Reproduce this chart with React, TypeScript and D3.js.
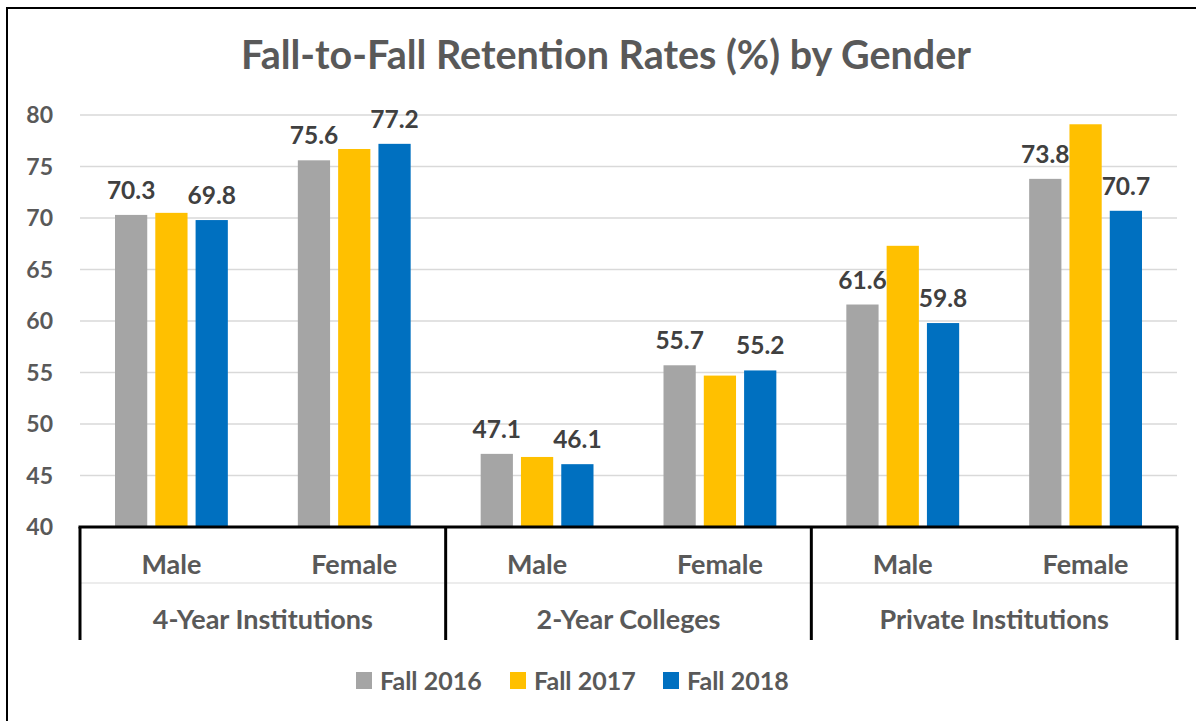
import React from "react";
import * as d3 from "d3";

const groups = ["4-Year Institutions", "2-Year Colleges", "Private Institutions"];
const genders = ["Male", "Female"];
const seriesNames = ["Fall 2016", "Fall 2017", "Fall 2018"];
const colors = ["#a5a5a5", "#ffc000", "#0070c0"];
// values per category (group x gender) in order
const fall2016 = [70.3, 75.6, 47.1, 55.7, 61.6, 73.8];
const fall2017 = [70.5, 76.7, 46.8, 54.7, 67.3, 79.1];
const fall2018 = [69.8, 77.2, 46.1, 55.2, 59.8, 70.7];
const showLabel = [true, false, true];
const yTicks = [40, 45, 50, 55, 60, 65, 70, 75, 80];

const W = 1196;
const H = 721;
const left = 80;
const right = 1177;
const top = 115;
const bottom = 527;
const FONT = "Lato, 'Open Sans', sans-serif";

export default function App() {
  const series = [fall2016, fall2017, fall2018];
  const cats = groups.flatMap((g) => genders.map((s) => `${g}|${s}`));
  const x = d3.scaleBand<string>().domain(cats).range([left, right]).paddingInner(0).paddingOuter(0);
  const bw = x.bandwidth();
  const xs = d3.scaleBand<string>().domain(seriesNames).range([35, bw - 35]).paddingInner(0.2);
  const y = d3.scaleLinear().domain([40, 80]).range([bottom, top]);
  const groupW = bw * 2;

  return (
    <div style={{ position: "absolute", left: 0, top: 0 }}>
      <svg width={W} height={H} style={{ display: "block", fontFamily: FONT }}>
        <rect x={0} y={0} width={W} height={H} fill="#fff" />
        <rect x={7} y={8} width={W + 20} height={H + 20} fill="none" stroke="#000" strokeWidth={2} />
        <text x={606} y={69} textAnchor="middle" fontSize={39.5} fontWeight="bold" fill="#595959">
          Fall-to-Fall Retention Rates (%) by Gender
        </text>
        {yTicks.map((t) => (
          <g key={t}>
            {t > 40 && <line x1={left} x2={right} y1={y(t)} y2={y(t)} stroke="#d9d9d9" strokeWidth={1.5} />}
            <text x={53} y={y(t)} dy="0.35em" textAnchor="end" fontSize={23} fontWeight="bold" fill="#595959">
              {t}
            </text>
          </g>
        ))}
        {series.map((vals, si) =>
          cats.map((c, ci) => {
            const bx = (x(c) as number) + (xs(seriesNames[si]) as number);
            const v = vals[ci];
            return (
              <g key={`${si}-${ci}`}>
                <rect x={bx} y={y(v)} width={xs.bandwidth()} height={bottom - y(v)} fill={colors[si]} />
                {showLabel[si] && (
                  <text x={bx + xs.bandwidth() / 2} y={y(v) - 16} textAnchor="middle" fontSize={24.5} fontWeight="bold" fill="#404040">
                    {v.toFixed(1)}
                  </text>
                )}
              </g>
            );
          })
        )}
        <line x1={left} x2={right} y1={583} y2={583} stroke="#d9d9d9" strokeWidth={1} />
        <line x1={left - 1.5} x2={right + 1.5} y1={bottom} y2={bottom} stroke="#000" strokeWidth={3} />
        {[0, 1, 2, 3].map((i) => (
          <line key={i} x1={left + i * groupW} x2={left + i * groupW} y1={bottom} y2={640} stroke="#000" strokeWidth={3} />
        ))}
        {cats.map((c) => (
          <text key={c} x={(x(c) as number) + bw / 2} y={565} dy="0.35em" textAnchor="middle" fontSize={27} fontWeight="bold" fill="#595959">
            {c.split("|")[1]}
          </text>
        ))}
        {groups.map((g, i) => (
          <text key={g} x={left + i * groupW + groupW / 2} y={620} dy="0.35em" textAnchor="middle" fontSize={27} fontWeight="bold" fill="#595959">
            {g}
          </text>
        ))}
        {seriesNames.map((s, i) => {
          const lx = [356, 510, 663][i];
          return (
            <g key={s}>
              <rect x={lx} y={672} width={16} height={17} fill={colors[i]} />
              <text x={lx + 24} y={681} dy="0.35em" fontSize={25} fontWeight="bold" fill="#595959">
                {s}
              </text>
            </g>
          );
        })}
      </svg>
    </div>
  );
}
